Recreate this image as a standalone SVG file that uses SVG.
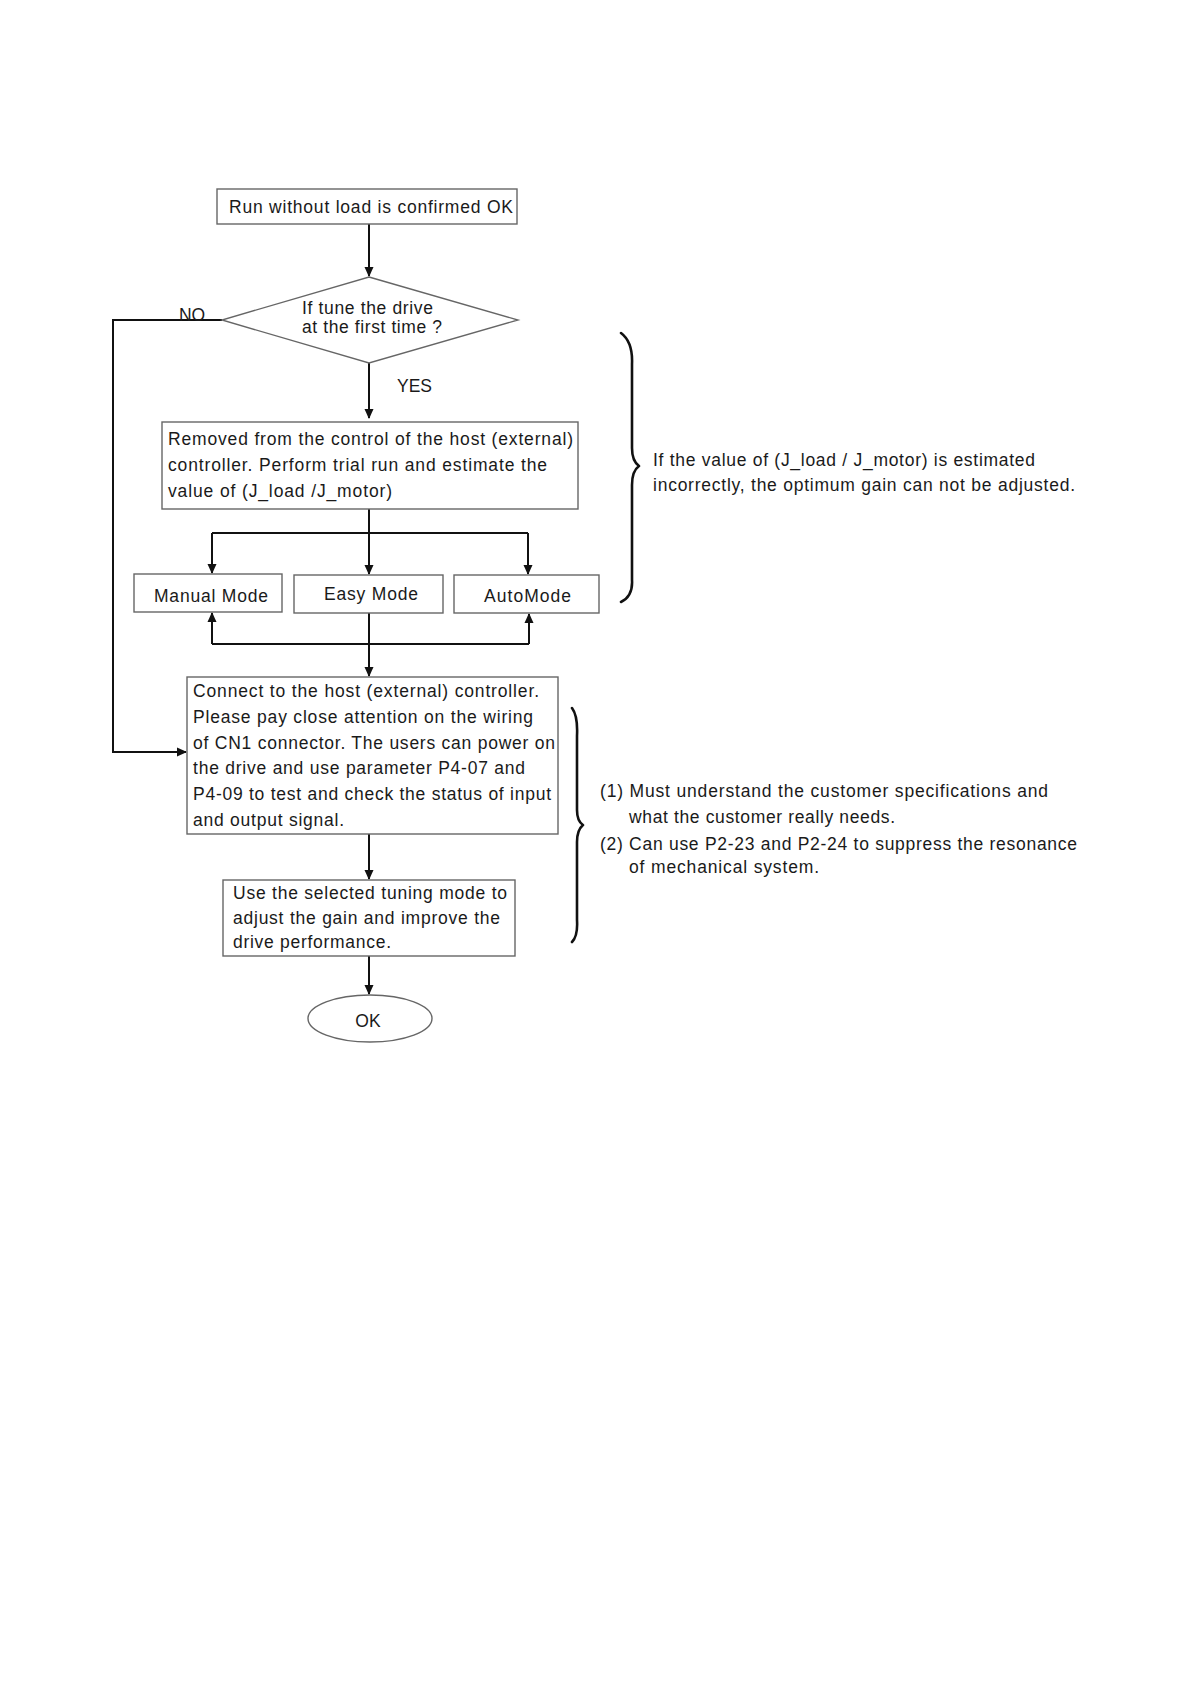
<svg xmlns="http://www.w3.org/2000/svg" width="1190" height="1684" viewBox="0 0 1190 1684">
<style>
text{font-family:"Liberation Sans",Arial,sans-serif;font-size:17.5px;fill:#1a1a1a}
.box{fill:#fff;stroke:#666;stroke-width:1.4}
.ln{fill:none;stroke:#111;stroke-width:2}
.br{fill:none;stroke:#111;stroke-width:2.6;stroke-linecap:round;stroke-linejoin:round}
.c{text-anchor:middle}
</style>
<defs>
<marker id="ah" markerWidth="10" markerHeight="10" refX="9" refY="5" orient="auto" markerUnits="userSpaceOnUse">
<path d="M0,0.5 L10,5 L0,9.5 Z" fill="#111"/>
</marker>
</defs>
<rect width="1190" height="1684" fill="#fff"/>
<g id="connectors">
<path class="ln" d="M369,224 V276" marker-end="url(#ah)"/>
<path class="ln" d="M369,363 V418" marker-end="url(#ah)"/>
<path class="ln" d="M369,509 V533"/>
<path class="ln" d="M212,533 H528"/>
<path class="ln" d="M212,533 V573" marker-end="url(#ah)"/>
<path class="ln" d="M369,533 V574" marker-end="url(#ah)"/>
<path class="ln" d="M528,533 V574" marker-end="url(#ah)"/>
<path class="ln" d="M212,644 H529"/>
<path class="ln" d="M212,644 V613" marker-end="url(#ah)"/>
<path class="ln" d="M529,644 V614" marker-end="url(#ah)"/>
<path class="ln" d="M369,613 V676" marker-end="url(#ah)"/>
<path class="ln" d="M222,320 H113 V752 H186" marker-end="url(#ah)"/>
<path class="ln" d="M369,834 V879" marker-end="url(#ah)"/>
<path class="ln" d="M369,956 V994" marker-end="url(#ah)"/>
<text x="179" y="321" textLength="26">NO</text>
<text x="397" y="392" textLength="35">YES</text>
</g>
<g id="start">
<rect class="box" x="217" y="189" width="300" height="35"/>
<text x="229" y="213" textLength="284">Run without load is confirmed OK</text>
</g>
<g id="decision">
<polygon class="box" points="369,277 518,320 369,363 222,320"/>
<text x="302" y="314" textLength="131">If tune the drive</text>
<text x="302" y="333" textLength="140">at the first time ?</text>
</g>
<g id="estimate">
<rect class="box" x="162" y="422" width="416" height="87"/>
<text x="168" y="445" textLength="405">Removed from the control of the host (external)</text>
<text x="168" y="471" textLength="379">controller. Perform trial run and estimate the</text>
<text x="168" y="497" textLength="224">value of (J_load /J_motor)</text>
</g>
<g id="manual">
<rect class="box" x="134" y="574" width="148" height="38"/>
<text x="154" y="602" textLength="114">Manual Mode</text>
</g>
<g id="easy">
<rect class="box" x="294" y="575" width="149" height="38"/>
<text x="324" y="600" textLength="94">Easy Mode</text>
</g>
<g id="auto">
<rect class="box" x="454" y="575" width="145" height="38"/>
<text x="484" y="602" textLength="87">AutoMode</text>
</g>
<g id="connect">
<rect class="box" x="187" y="677" width="371" height="157"/>
<text x="193" y="697" textLength="346">Connect to the host (external) controller.</text>
<text x="193" y="723" textLength="340">Please pay close attention on the wiring</text>
<text x="193" y="749" textLength="362">of CN1 connector. The users can power on</text>
<text x="193" y="774" textLength="332">the drive and use parameter P4-07 and</text>
<text x="193" y="800" textLength="358">P4-09 to test and check the status of input</text>
<text x="193" y="826" textLength="151">and output signal.</text>
</g>
<g id="tune">
<rect class="box" x="223" y="880" width="292" height="76"/>
<text x="233" y="899" textLength="274">Use the selected tuning mode to</text>
<text x="233" y="924" textLength="267">adjust the gain and improve the</text>
<text x="233" y="948" textLength="158">drive performance.</text>
</g>
<g id="ok">
<ellipse class="box" cx="370" cy="1018.5" rx="62" ry="23.5"/>
<text class="c" x="368" y="1027">OK</text>
</g>
<g id="note1">
<path class="br" d="M621,333 Q633,342 632,364 L632,448 Q632,461 639,466 Q632,471 632,485 L632,580 Q633,596 621,602"/>
<text x="653" y="466" textLength="382">If the value of (J_load / J_motor) is estimated</text>
<text x="653" y="491" textLength="422">incorrectly, the optimum gain can not be adjusted.</text>
</g>
<g id="note2">
<path class="br" d="M572,708 Q578,716 577,736 L577,810 Q577,821 583,825 Q577,830 577,842 L577,920 Q578,936 572,942"/>
<text x="600" y="797" textLength="448">(1) Must understand the customer specifications and</text>
<text x="629" y="823" textLength="266">what the customer really needs.</text>
<text x="600" y="850" textLength="477">(2) Can use P2-23 and P2-24 to suppress the resonance</text>
<text x="629" y="873" textLength="190">of mechanical system.</text>
</g>
</svg>
